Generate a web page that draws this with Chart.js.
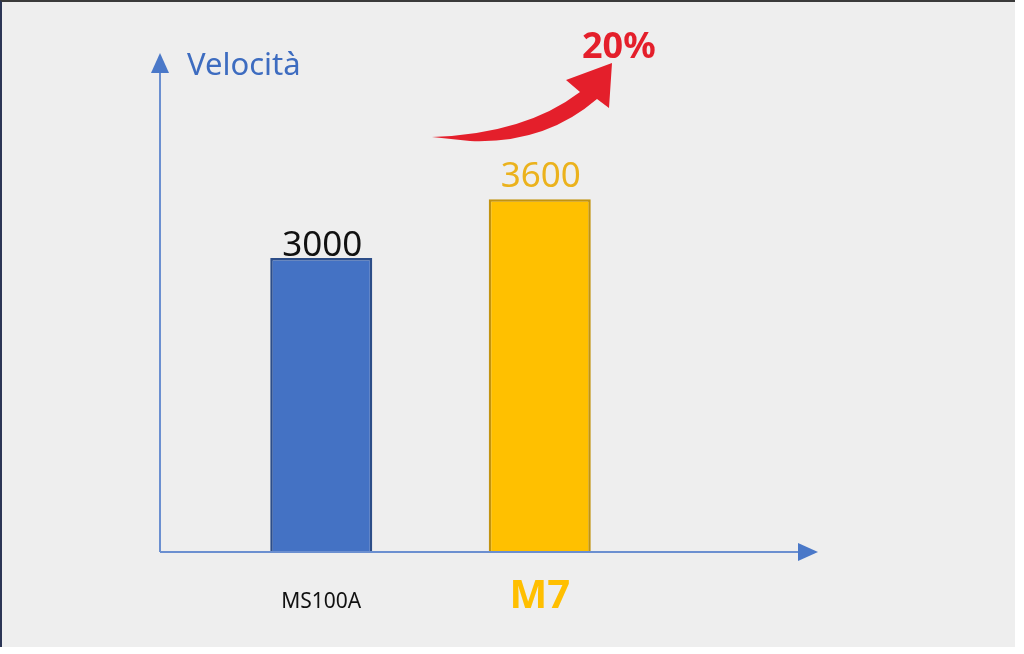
<!DOCTYPE html>
<html lang="it">
<head>
    <meta charset="UTF-8">
    <title>Velocità</title>
    <script src="https://cdn.jsdelivr.net/npm/chart.js"></script>
    <style>
        body {
            margin: 0;
            padding: 0;
            background: #fff;
        }
        .wrap {
            position: relative;
            width: 1024px;
            height: 654px;
            overflow: hidden;
        }
        .frame {
            position: absolute;
            left: 0;
            top: 0;
            width: 1013px;
            height: 645px;
            background: #eeeeee;
            border-top: 2px solid #3a3a3a;
            border-left: 2px solid #2b3555;
        }
        canvas {
            position: absolute;
            left: 0;
            top: 0;
        }
    </style>
</head>
<body>
    <div class="wrap">
        <div class="frame"></div>
        <canvas id="speedChart" width="1024" height="654"></canvas>
    </div>

    <script>
        const categories = ['MS100A', 'M7'];
        const speeds = [3000, 3600];
        const barColors = ['#4472c4', '#ffc000'];
        const barBorders = ['#2c4d88', '#c29310'];
        const valueColors = ['#111111', '#ebb21c'];
        const axisTitle = 'Velocità';
        const growthLabel = '20%';

        const axisBlue = '#4a78c8';

        // axis arrows, value labels, title and the red growth arrow
        const decorations = {
            id: 'decorations',
            afterDatasetsDraw(chart) {
                const c = chart.ctx;
                const a = chart.chartArea;
                const x0 = a.left - 52;
                const y0 = a.bottom;

                c.save();
                c.strokeStyle = '#6b8fd0';
                c.lineWidth = 2;
                c.beginPath();
                c.moveTo(x0, y0);
                c.lineTo(a.right + 152, y0);
                c.moveTo(x0, y0);
                c.lineTo(x0, a.top + 8);
                c.stroke();

                c.fillStyle = axisBlue;
                c.beginPath();
                c.moveTo(x0, a.top - 9);
                c.lineTo(x0 - 9, a.top + 11);
                c.lineTo(x0 + 9, a.top + 11);
                c.closePath();
                c.fill();
                c.beginPath();
                c.moveTo(a.right + 169, y0);
                c.lineTo(a.right + 149, y0 - 9);
                c.lineTo(a.right + 149, y0 + 9);
                c.closePath();
                c.fill();

                c.font = '31px "Noto Sans", sans-serif';
                c.fillStyle = '#3d6cc0';
                c.textAlign = 'left';
                c.textBaseline = 'alphabetic';
                c.fillText(axisTitle, x0 + 27, a.top + 13);

                const meta = chart.getDatasetMeta(0);
                c.textAlign = 'center';
                c.font = '35px "Noto Sans", sans-serif';
                meta.data.forEach((bar, i) => {
                    c.fillStyle = valueColors[i];
                    c.fillText(String(speeds[i]), bar.x + 1, bar.y - (i === 0 ? 2 : 12));
                });

                // red curved arrow
                c.fillStyle = '#e41f2b';
                c.beginPath();
                c.moveTo(432, 137);
                c.quadraticCurveTo(525, 134, 580, 92);
                c.lineTo(566, 80);
                c.lineTo(612, 63);
                c.lineTo(609, 108);
                c.lineTo(597, 99);
                c.quadraticCurveTo(545, 144, 470, 141);
                c.closePath();
                c.fill();

                c.font = 'bold 36px "Noto Sans", sans-serif';
                c.textAlign = 'left';
                c.fillText(growthLabel, 582, 58);
                c.restore();
            }
        };

        new Chart(document.getElementById('speedChart'), {
            type: 'bar',
            data: {
                labels: categories,
                datasets: [{
                    data: speeds,
                    backgroundColor: barColors,
                    borderColor: barBorders,
                    borderWidth: 2.5,
                    categoryPercentage: 1,
                    barPercentage: 0.467
                }]
            },
            options: {
                responsive: false,
                animation: false,
                devicePixelRatio: 1,
                layout: {
                    padding: { left: 212, right: 375, top: 62, bottom: 2 }
                },
                plugins: {
                    legend: { display: false },
                    tooltip: { enabled: false }
                },
                scales: {
                    x: {
                        grid: { display: false, drawTicks: false },
                        border: { display: false },
                        ticks: {
                            padding: 3,
                            color: (ctx) => ctx.index === 1 ? '#ffbf00' : '#111111',
                            font: (ctx) => ctx.index === 1
                                ? { family: 'Noto Sans', size: 40, weight: 'bold', lineHeight: '84px' }
                                : { family: 'Liberation Sans Narrow, Noto Sans', size: 21, lineHeight: '94px' }
                        }
                    },
                    y: {
                        display: false,
                        min: 0,
                        max: 5000
                    }
                }
            },
            plugins: [decorations]
        });
    </script>
</body>
</html>
